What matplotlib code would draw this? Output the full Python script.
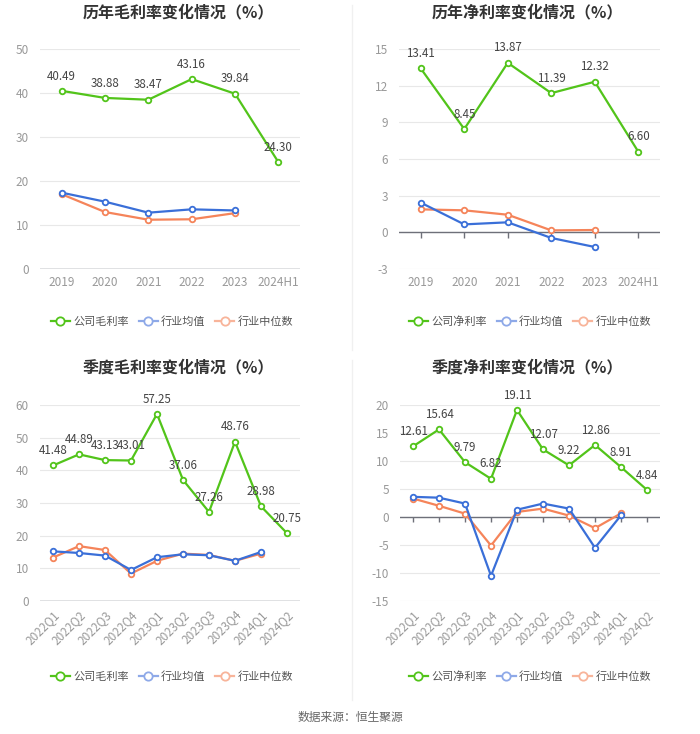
import matplotlib
matplotlib.use("Agg")
import matplotlib.pyplot as plt
from matplotlib.lines import Line2D

plt.rcParams['font.family'] = ['Noto Sans CJK SC', 'DejaVu Sans']

years = ["2019", "2020", "2021", "2022", "2023", "2024H1"]
quarters = ["2022Q1", "2022Q2", "2022Q3", "2022Q4", "2023Q1", "2023Q2",
            "2023Q3", "2023Q4", "2024Q1", "2024Q2"]

gross_year_company = [40.49, 38.88, 38.47, 43.16, 39.84, 24.30]
gross_year_ind_avg = [17.35, 15.3, 12.8, 13.56, 13.3]
gross_year_ind_med = [17.0, 12.95, 11.2, 11.3, 12.7]

net_year_company = [13.41, 8.45, 13.87, 11.39, 12.32, 6.60]
net_year_ind_avg = [2.43, 0.65, 0.82, -0.46, -1.2]
net_year_ind_med = [1.88, 1.8, 1.44, 0.16, 0.19]

gross_q_company = [41.48, 44.89, 43.13, 43.01, 57.25, 37.06, 27.26, 48.76, 28.98, 20.75]
gross_q_ind_avg = [15.2, 14.7, 13.9, 9.5, 13.4, 14.3, 14.0, 12.3, 15.0]
gross_q_ind_med = [13.3, 16.8, 15.6, 8.4, 12.3, 14.5, 14.1, 12.3, 14.5]

net_q_company = [12.61, 15.64, 9.79, 6.82, 19.11, 12.07, 9.22, 12.86, 8.91, 4.84]
net_q_ind_avg = [3.6, 3.45, 2.4, -10.5, 1.3, 2.4, 1.5, -5.5, 0.3]
net_q_ind_med = [3.3, 2.0, 0.6, -5.1, 0.9, 1.5, 0.25, -2.0, 0.65]

GREEN = "#52C41A"
BLUE = "#3A6FD8"
ORANGE = "#F5845A"
GRID = "#E8E8E8"
AXIS = "#6E7079"
TICKC = "#999999"

W, H = 700, 734
fig = plt.figure(figsize=(W / 100, H / 100), dpi=100)


def make_ax(l, r, t, b):
    return fig.add_axes([l / W, 1 - b / H, (r - l) / W, (b - t) / H])


def draw(ax, cats, comp, avg, med, ylim, yticks, title, tx, ty, rot):
    n = len(cats)
    x = list(range(n))
    ax.set_xlim(-0.5, n - 0.5)
    ax.set_ylim(*ylim)
    ax.set_yticks(yticks)
    ax.set_yticklabels([str(v) for v in yticks], color=TICKC, fontsize=8.5)
    for s in ax.spines.values():
        s.set_visible(False)
    ax.tick_params(axis='y', length=0, pad=8)
    ax.grid(axis='y', color=GRID, linewidth=0.8)
    ax.set_axisbelow(True)
    ax.set_xticks(x)
    if rot:
        ax.set_xticklabels(cats, rotation=45, ha='right', rotation_mode='anchor',
                           color=TICKC, fontsize=8.5)
    else:
        ax.set_xticklabels(cats, color=TICKC, fontsize=8.5)
    ax.tick_params(axis='x', length=0, pad=5)
    ax.axhline(0, color=AXIS, linewidth=1, zorder=2)
    tl = (ylim[1] - ylim[0]) * 0.025
    ax.vlines(x, -tl, 0, color=AXIS, linewidth=1, zorder=2)
    kw = dict(marker='o', markersize=4, markerfacecolor='white', linewidth=1.6,
              markeredgewidth=1.3, zorder=3)
    ax.plot(range(len(med)), med, color=ORANGE, markeredgecolor=ORANGE, **kw)
    ax.plot(range(len(avg)), avg, color=BLUE, markeredgecolor=BLUE, **kw)
    ax.plot(x, comp, color=GREEN, markeredgecolor=GREEN, **kw)
    for xi, v in zip(x, comp):
        ax.annotate(f"{v:.2f}", (xi, v), xytext=(0, 6), textcoords='offset points',
                    ha='center', va='bottom', fontsize=8.3, color='#444444', zorder=4)
    fig.text(tx / W, 1 - ty / H, title, ha='center', va='center', fontsize=11.5,
             fontweight='bold', color='#333333')
    hk = dict(marker='o', markerfacecolor='white', markersize=6,
              markeredgewidth=1.3, linewidth=1.6)
    return [Line2D([], [], color=GREEN, **hk),
            Line2D([], [], color='#8EA9E8', **hk),
            Line2D([], [], color='#F8B49A', **hk)]


def legend(h, first, cx, cy):
    fig.legend(h, [first, "行业均值", "行业中位数"], loc='center',
               bbox_to_anchor=(cx / W, 1 - cy / H), ncol=3, frameon=False,
               fontsize=8, labelcolor='#555555', handlelength=1.7, columnspacing=0.9,
               handletextpad=0.3)


h = draw(make_ax(40, 300, 49, 269), years, gross_year_company, gross_year_ind_avg,
         gross_year_ind_med, (0, 50), [0, 10, 20, 30, 40, 50],
         "历年毛利率变化情况（%）", 178, 12, False)
legend(h, "公司毛利率", 172, 322)

h = draw(make_ax(399, 660, 49, 269), years, net_year_company, net_year_ind_avg,
         net_year_ind_med, (-3, 15), [-3, 0, 3, 6, 9, 12, 15],
         "历年净利率变化情况（%）", 527, 12, False)
legend(h, "公司净利率", 530, 322)

h = draw(make_ax(40, 300, 405, 601), quarters, gross_q_company, gross_q_ind_avg,
         gross_q_ind_med, (0, 60), [0, 10, 20, 30, 40, 50, 60],
         "季度毛利率变化情况（%）", 178, 367, True)
legend(h, "公司毛利率", 172, 677)

h = draw(make_ax(400, 660, 405, 601), quarters, net_q_company, net_q_ind_avg,
         net_q_ind_med, (-15, 20), [-15, -10, -5, 0, 5, 10, 15, 20],
         "季度净利率变化情况（%）", 527, 367, True)
legend(h, "公司净利率", 530, 677)

fig.add_artist(Line2D([352 / W, 352 / W], [1 - 5 / H, 1 - 350 / H], color='#F0F0F0',
                      linewidth=1, transform=fig.transFigure))
fig.add_artist(Line2D([352 / W, 352 / W], [1 - 360 / H, 1 - 700 / H], color='#F0F0F0',
                      linewidth=1, transform=fig.transFigure))

fig.text(350 / W, 1 - 717 / H, "数据来源：恒生聚源", ha='center', va='center',
         fontsize=8.5, color='#666666')

fig.savefig("out.png", dpi=100, facecolor='white')
